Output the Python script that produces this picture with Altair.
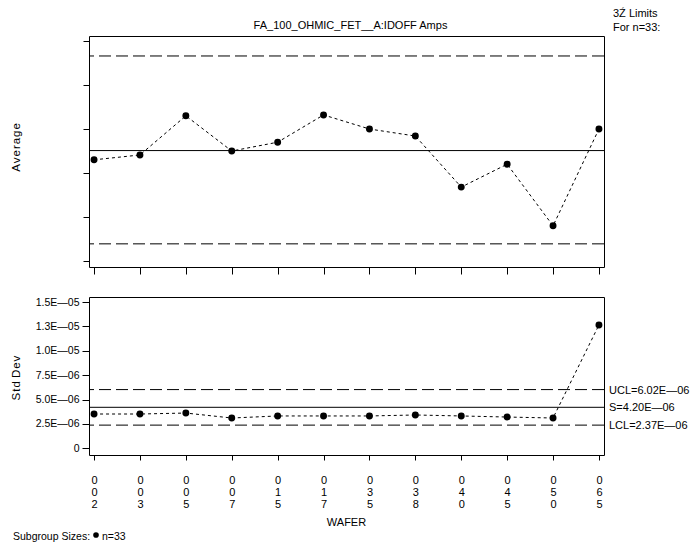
import json
import altair as alt
import pandas as pd

# ---------------- data ----------------
wafers = ["002", "003", "005", "007", "015", "017", "035", "038", "040", "045", "050", "065"]
avg_values = [2.30, 2.41, 3.30, 2.50, 2.70, 3.32, 3.00, 2.84, 1.68, 2.20, 0.80, 3.00]
std_values = [3.51e-6, 3.51e-6, 3.61e-6, 3.10e-6, 3.31e-6, 3.31e-6, 3.31e-6, 3.41e-6,
              3.31e-6, 3.20e-6, 3.10e-6, 12.66e-6]

avg_limit_values = [4.66, 0.39]      # UCL, LCL (dashed)
avg_center = [2.51]                  # centre line (solid)
avg_tick_values = [0, 1, 2, 3, 4, 5]

std_limit_values = [6.02e-6, 2.37e-6]   # UCL, LCL (dashed)
std_center = [4.20e-6]                  # S (solid)
std_label_values = [6.02e-6, 4.20e-6, 2.37e-6]
std_label_texts = ["UCL=6.02E\u201406", "S=4.20E\u201406", "LCL=2.37E\u201406"]
std_tick_values = [0, 2.5e-6, 5e-6, 7.5e-6, 1e-5, 1.25e-5, 1.5e-5]
std_tick_labels = ["0", "2.5E\u201406", "5.0E\u201406", "7.5E\u201406", "1.0E\u201405",
                   "1.3E\u201405", "1.5E\u201405"]

title_text = "FA_100_OHMIC_FET__A:IDOFF Amps"
limits_note = ["3\u0179 Limits", "For n=33:"]
subgroup_text = "Subgroup Sizes:"
subgroup_n = "n=33"
HS = "\u200a"
avg_title = HS.join("Average")
std_title = HS.join("Std") + "  " + HS.join("Dev")

FONT = "Liberation Sans"
W = 515
H_TOP = 231
H_BOT = 158

df_top = pd.DataFrame({"wafer": wafers, "value": avg_values})
df_bot = pd.DataFrame({"wafer": wafers, "value": std_values})

xscale = alt.Scale(type="point", padding=0.11)

# ---------------- top panel (Average) ----------------
x_top = alt.X("wafer:O", scale=xscale, sort=wafers,
              axis=alt.Axis(labels=False, title=None, ticks=True, tickSize=7,
                            domain=False, grid=False))
y_top = alt.Y("value:Q", scale=alt.Scale(domain=[-0.136, 5.114], nice=False, zero=False),
              axis=alt.Axis(values=avg_tick_values, labels=False, title=None, tickSize=6,
                            domain=False, grid=False))

top_line = alt.Chart(df_top).mark_line(color="black", strokeWidth=1, strokeDash=[3, 3]).encode(x=x_top, y=y_top)
top_pts = alt.Chart(df_top).mark_circle(color="black", size=48, opacity=1).encode(x=x_top, y=y_top)
top_dash = alt.Chart(pd.DataFrame({"value": avg_limit_values})).mark_rule(
    color="black", strokeWidth=1, strokeDash=[12, 5]).encode(y=y_top)
top_center = alt.Chart(pd.DataFrame({"value": avg_center})).mark_rule(
    color="black", strokeWidth=1).encode(y=y_top)
top_title = alt.Chart(pd.DataFrame({"t": [title_text]})).mark_text(
    font=FONT, fontSize=11, color="black", baseline="middle", align="center").encode(
    x=alt.value(W / 2 + 4), y=alt.value(-10), text="t:N")
top_note = alt.Chart(pd.DataFrame({"t": limits_note, "dy": [-22, -8]})).mark_text(
    font=FONT, fontSize=11, color="black", baseline="middle", align="left").encode(
    x=alt.value(W + 9), y=alt.Y("dy:Q", scale=None), text="t:N")
top_ytitle = alt.Chart(pd.DataFrame({"t": [avg_title]})).mark_text(
    font=FONT, fontSize=11.5, color="black", angle=270, baseline="middle", align="center").encode(
    x=alt.value(-72), y=alt.value(H_TOP / 2 - 4), text="t:N")

top = alt.layer(top_dash, top_center, top_line, top_pts, top_title, top_note, top_ytitle).properties(
    width=W, height=H_TOP)

# ---------------- bottom panel (Std Dev) ----------------
label_expr_y = f"{json.dumps(std_tick_labels)}[indexof({json.dumps(std_tick_values)}, datum.value)]"
x_bot = alt.X("wafer:O", scale=xscale, sort=wafers,
              axis=alt.Axis(title=None, ticks=True, tickSize=5, domain=False, grid=False,
                            labelAngle=0, labelExpr="split(datum.label, '')",
                            labelLineHeight=12, labelPadding=14, labelFontSize=11,
                            labelBaseline="top", labelOverlap=False))
y_bot = alt.Y("value:Q", scale=alt.Scale(domain=[-0.70e-6, 15.53e-6], nice=False, zero=False),
              axis=alt.Axis(values=std_tick_values, labelExpr=label_expr_y, title=None,
                            tickSize=7, labelPadding=3, domain=False, grid=False,
                            labelFontSize=10.5, labelOverlap=False, labelSeparation=0))

bot_line = alt.Chart(df_bot).mark_line(color="black", strokeWidth=1, strokeDash=[3, 3]).encode(x=x_bot, y=y_bot)
bot_pts = alt.Chart(df_bot).mark_circle(color="black", size=48, opacity=1).encode(x=x_bot, y=y_bot)
bot_dash = alt.Chart(pd.DataFrame({"value": std_limit_values})).mark_rule(
    color="black", strokeWidth=1, strokeDash=[12, 5]).encode(y=y_bot)
bot_center = alt.Chart(pd.DataFrame({"value": std_center})).mark_rule(
    color="black", strokeWidth=1).encode(y=y_bot)
bot_labels = alt.Chart(pd.DataFrame({"value": std_label_values, "t": std_label_texts})).mark_text(
    font=FONT, fontSize=11, color="black", baseline="middle", align="left", dy=1).encode(
    x=alt.value(W + 5), y=y_bot, text="t:N")
bot_ytitle = alt.Chart(pd.DataFrame({"t": [std_title]})).mark_text(
    font=FONT, fontSize=11.5, color="black", angle=270, baseline="middle", align="center").encode(
    x=alt.value(-72), y=alt.value(H_BOT / 2 + 2), text="t:N")
bot_xtitle = alt.Chart(pd.DataFrame({"t": ["WAFER"]})).mark_text(
    font=FONT, fontSize=11, color="black", baseline="middle", align="center").encode(
    x=alt.value(W / 2), y=alt.value(H_BOT + 68), text="t:N")
bot_sub = alt.Chart(pd.DataFrame({"t": [subgroup_text]})).mark_text(
    font=FONT, fontSize=10.5, color="black", baseline="middle", align="left").encode(
    x=alt.value(-76), y=alt.value(H_BOT + 82), text="t:N")
bot_sub_pt = alt.Chart(pd.DataFrame({"t": [subgroup_n]})).mark_point(
    shape="circle", filled=True, color="black", size=32, opacity=1).encode(
    x=alt.value(7), y=alt.value(H_BOT + 80))
bot_sub_n = alt.Chart(pd.DataFrame({"t": [subgroup_n]})).mark_text(
    font=FONT, fontSize=10.5, color="black", baseline="middle", align="left").encode(
    x=alt.value(13), y=alt.value(H_BOT + 82), text="t:N")

bot = alt.layer(bot_dash, bot_center, bot_line, bot_pts, bot_labels, bot_ytitle, bot_xtitle,
                bot_sub, bot_sub_pt, bot_sub_n).properties(width=W, height=H_BOT)

chart = alt.vconcat(top, bot, spacing=21).properties(
    padding={"left": 10, "top": 7, "right": 0, "bottom": 0},
    background="white",
).configure_view(stroke="black", strokeWidth=1).configure_axis(
    labelFont=FONT, labelColor="black", tickColor="black", tickWidth=1, labelOverlap=False
).configure_concat(spacing=21)

chart.save("out.html", embed_options={"renderer": "svg", "actions": False})
